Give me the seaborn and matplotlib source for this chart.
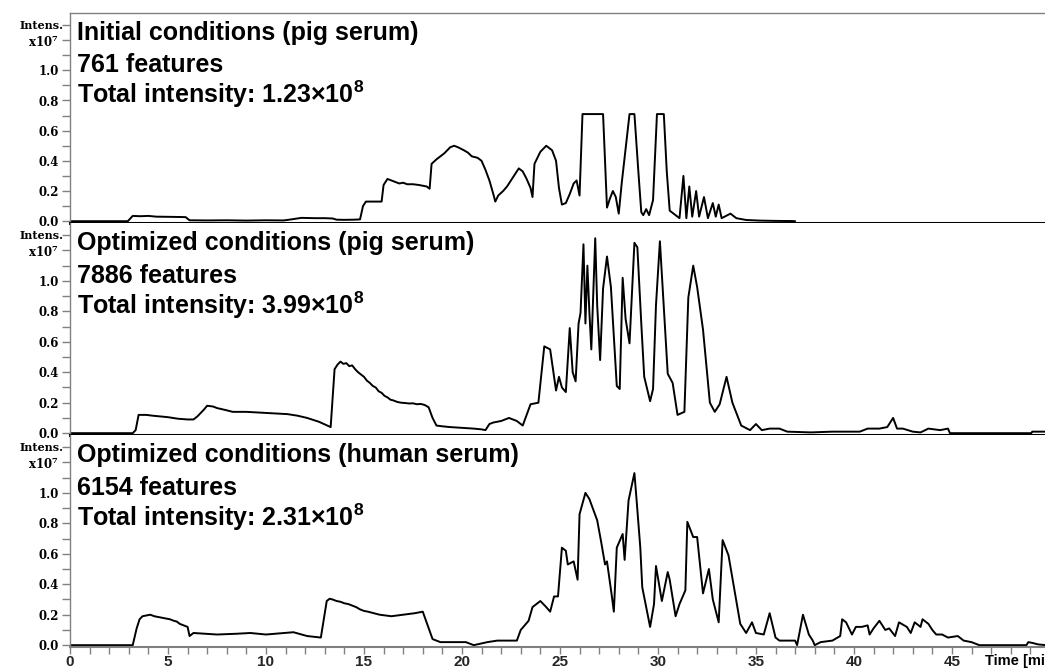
import matplotlib
matplotlib.use("Agg")
import matplotlib.pyplot as plt
import seaborn as sns
import pandas as pd
import numpy as np

# Retention time [min] and base-peak intensity [x10^7] for each chromatogram
t_initial_pig = [0.0, 2.95, 3.2, 3.6, 4.0, 4.4, 5.0, 5.5, 5.9, 6.1, 7.0, 8.0, 9.0, 10.0, 10.9,
                 11.3, 11.8, 12.5, 13.0, 13.4, 13.6, 14.0, 14.5, 14.8, 14.95, 15.1, 15.5, 15.9,
                 16.0, 16.2, 16.4, 16.6, 16.8, 17.0, 17.2, 17.5, 17.8, 18.0, 18.2, 18.35, 18.45,
                 18.7, 18.9, 19.1, 19.4, 19.6, 19.8, 20.1, 20.3, 20.5, 20.8, 21.0, 21.2, 21.4,
                 21.6, 21.7, 21.85, 22.1, 22.3, 22.6, 22.9, 23.1, 23.3, 23.5, 23.6, 23.7, 24.0,
                 24.3, 24.6, 24.8, 24.95, 25.1, 25.3, 25.5, 25.7, 25.85, 26.0, 26.15, 27.2, 27.4,
                 27.55, 27.7, 27.85, 28.0, 28.15, 28.35, 28.55, 28.8, 29.0, 29.15, 29.25, 29.4,
                 29.55, 29.75, 29.95, 30.3, 30.45, 30.6, 30.9, 31.1, 31.3, 31.45, 31.6, 31.75,
                 31.95, 32.1, 32.35, 32.55, 32.8, 32.95, 33.1, 33.25, 33.7, 34.0, 34.5, 35.2,
                 36.0, 36.8, 37.0]
i_initial_pig = [0.0, 0.0, 0.035, 0.033, 0.035, 0.03, 0.029, 0.028, 0.027, 0.006, 0.005, 0.006,
                 0.004, 0.006, 0.005, 0.012, 0.022, 0.02, 0.02, 0.018, 0.01, 0.009, 0.01, 0.012,
                 0.10, 0.13, 0.13, 0.13, 0.24, 0.28, 0.27, 0.26, 0.25, 0.255, 0.245, 0.245, 0.24,
                 0.235, 0.23, 0.215, 0.38, 0.41, 0.43, 0.45, 0.49, 0.50, 0.49, 0.47, 0.455, 0.43,
                 0.42, 0.40, 0.34, 0.27, 0.18, 0.13, 0.17, 0.20, 0.23, 0.29, 0.35, 0.33, 0.28,
                 0.22, 0.16, 0.38, 0.46, 0.50, 0.47, 0.40, 0.22, 0.11, 0.12, 0.18, 0.25, 0.27,
                 0.17, 0.71, 0.71, 0.09, 0.15, 0.20, 0.16, 0.05, 0.25, 0.48, 0.71, 0.71, 0.33,
                 0.06, 0.04, 0.08, 0.04, 0.14, 0.71, 0.71, 0.33, 0.07, 0.04, 0.02, 0.30, 0.02,
                 0.23, 0.03, 0.20, 0.03, 0.16, 0.02, 0.12, 0.03, 0.11, 0.02, 0.05, 0.02, 0.008,
                 0.004, 0.002, 0.001, 0.0]

t_optimized_pig = [0.0, 3.2, 3.35, 3.5, 3.9, 4.2, 4.6, 5.0, 5.5, 6.0, 6.3, 6.5, 6.8, 7.0, 7.3,
                   7.5, 8.0, 8.3, 9.0, 9.7, 10.4, 11.1, 11.6, 12.1, 12.7, 13.3,
                   13.5, 13.65, 13.8, 13.95, 14.1, 14.25, 14.4, 14.55, 14.7, 14.85, 15.0, 15.15,
                   15.3, 15.45, 15.6, 15.75, 15.9, 16.05, 16.2, 16.35, 16.5, 16.7, 16.9, 17.1,
                   17.3, 17.5, 17.7, 17.9, 18.1, 18.3,
                   18.5, 18.7, 19.0, 19.4, 20.0, 20.6, 21.0, 21.2, 21.4, 21.6, 22.0, 22.4, 22.8,
                   23.1, 23.5, 23.9, 24.2, 24.5, 24.8, 24.95, 25.1, 25.3, 25.5, 25.65, 25.8,
                   25.95, 26.05, 26.2, 26.3, 26.4, 26.5, 26.6, 26.8, 26.9, 27.05, 27.2, 27.4,
                   27.6, 27.9, 28.05, 28.2, 28.35, 28.55, 28.8, 28.95, 29.15, 29.3, 29.6, 29.75,
                   29.9, 30.1, 30.35, 30.5, 30.75, 31.0, 31.35, 31.55, 31.8, 32.0, 32.3, 32.65,
                   32.9, 33.15, 33.5, 33.8, 34.25, 34.7, 35.0, 35.3, 35.7, 36.2, 36.6, 37.8,
                   38.9, 40.3, 40.7, 41.3, 41.7, 42.0, 42.2, 42.5, 43.0, 43.4, 43.8, 44.4, 44.8,
                   44.9, 49.05, 49.1, 49.8]
i_optimized_pig = [0.0, 0.0, 0.02, 0.12, 0.12, 0.115, 0.11, 0.105, 0.095, 0.09, 0.09, 0.11,
                   0.15, 0.18, 0.175, 0.165, 0.15, 0.14, 0.14, 0.135, 0.13, 0.125, 0.115, 0.10,
                   0.075, 0.04,
                   0.42, 0.45, 0.47, 0.455, 0.46, 0.44, 0.445, 0.42, 0.40, 0.385, 0.37, 0.345,
                   0.33, 0.31, 0.30, 0.275, 0.265, 0.245, 0.235, 0.22, 0.215, 0.205, 0.20, 0.198,
                   0.195, 0.196, 0.19, 0.192, 0.185, 0.17,
                   0.10, 0.05, 0.045, 0.04, 0.035, 0.03, 0.025, 0.02, 0.06, 0.07, 0.08, 0.10,
                   0.08, 0.05, 0.19, 0.20, 0.57, 0.55, 0.28, 0.37, 0.30, 0.27, 0.69, 0.40, 0.34,
                   0.72, 0.79, 1.24, 0.72, 1.10, 0.80, 0.55, 1.28, 0.84, 0.48, 0.95, 1.16, 0.96,
                   0.31, 0.29, 1.02, 0.75, 0.59, 1.25, 1.22, 0.72, 0.37, 0.21, 0.29, 0.84, 1.26,
                   0.72, 0.39, 0.33, 0.12, 0.14, 0.89, 1.10, 0.96, 0.68, 0.20, 0.14, 0.19, 0.37,
                   0.20, 0.05, 0.02, 0.06, 0.02, 0.03, 0.03, 0.01, 0.005, 0.01, 0.01, 0.03, 0.03,
                   0.04, 0.10, 0.03, 0.03, 0.01, 0.005, 0.03, 0.02, 0.03, 0.0, 0.0, 0.01, 0.01]

t_optimized_human = [0.0, 3.2, 3.4, 3.55, 3.7, 3.9, 4.1, 4.3, 4.5, 4.7, 4.9, 5.1, 5.3, 5.45,
                     5.6, 5.8, 6.0, 6.1, 6.3, 7.5, 8.5, 9.2, 10.0, 10.9, 11.4, 12.1, 12.8,
                     13.1, 13.25, 13.4, 13.6, 13.8, 14.0, 14.2, 14.4, 14.6, 14.8, 15.0, 15.2,
                     15.5, 15.8, 16.1, 16.4, 16.7, 17.0, 17.3, 17.6, 17.8, 18.0,
                     18.5, 18.9, 20.2, 20.6, 21.3, 21.8, 22.8, 23.0, 23.4, 23.6, 24.0, 24.3,
                     24.5, 24.7, 24.9, 25.1, 25.3, 25.4, 25.7, 25.9, 26.0, 26.3, 26.5, 26.9, 27.1,
                     27.3, 27.4, 27.65, 27.75, 27.9, 28.2, 28.3, 28.5, 28.8, 28.9, 29.1, 29.2,
                     29.6, 29.8, 29.9, 30.2, 30.5, 30.6, 30.9, 31.1, 31.4, 31.5, 31.8, 32.0, 32.3,
                     32.6, 32.8, 33.1, 33.3, 33.6, 33.8, 34.2, 34.5, 34.8, 35.0, 35.4, 35.7, 36.0,
                     36.2, 37.0, 37.1, 37.4, 37.7, 37.9, 38.0, 38.3, 38.9, 39.3, 39.4, 39.6, 39.9,
                     40.1, 40.4, 40.7, 40.8, 41.0, 41.3, 41.6, 41.8, 42.1, 42.3, 42.7, 42.9, 43.1,
                     43.4, 43.5, 43.8, 44.0, 44.2, 44.5, 44.8, 45.3, 45.6, 46.0, 46.4, 48.8, 48.9,
                     49.1, 49.4, 49.8]
i_optimized_human = [0.0, 0.0, 0.11, 0.17, 0.19, 0.195, 0.20, 0.19, 0.185, 0.18, 0.175, 0.17,
                     0.16, 0.155, 0.14, 0.13, 0.12, 0.06, 0.08, 0.07, 0.075, 0.08, 0.07, 0.08,
                     0.085, 0.06, 0.05,
                     0.29, 0.305, 0.30, 0.29, 0.285, 0.275, 0.27, 0.26, 0.25, 0.235, 0.225, 0.22,
                     0.21, 0.20, 0.195, 0.19, 0.195, 0.20, 0.205, 0.21, 0.215, 0.22,
                     0.04, 0.02, 0.02, 0.0, 0.02, 0.03, 0.03, 0.10, 0.16, 0.25, 0.29, 0.25, 0.22,
                     0.32, 0.32, 0.64, 0.62, 0.53, 0.55, 0.43, 0.86, 1.00, 0.96, 0.82, 0.68, 0.53,
                     0.55, 0.32, 0.22, 0.64, 0.73, 0.56, 0.95, 1.13, 0.97, 0.64, 0.38, 0.12, 0.27,
                     0.52, 0.29, 0.48, 0.43, 0.19, 0.27, 0.36, 0.81, 0.71, 0.71, 0.34, 0.50, 0.30,
                     0.15, 0.69, 0.59, 0.44, 0.14, 0.08, 0.15, 0.08, 0.07, 0.21, 0.05, 0.03, 0.03,
                     0.0, 0.20, 0.07, 0.03, 0.0, 0.02, 0.03, 0.06, 0.17, 0.15, 0.07, 0.12, 0.12,
                     0.13, 0.07, 0.11, 0.16, 0.10, 0.11, 0.06, 0.15, 0.12, 0.08, 0.15, 0.12, 0.17,
                     0.14, 0.10, 0.07, 0.07, 0.05, 0.06, 0.03, 0.02, 0.0, 0.0, 0.02, 0.015, 0.005,
                     0.0]

panel_titles = ["Initial conditions (pig serum)",
                "Optimized conditions (pig serum)",
                "Optimized conditions (human serum)"]
feature_counts = ["761 features", "7886 features", "6154 features"]
total_intensities = ["1.23", "3.99", "2.31"]

y_ticks = [0.0, 0.2, 0.4, 0.6, 0.8, 1.0, 1.2]
y_tick_labels = ["0.0", "0.2", "0.4", "0.6", "0.8", "1.0", r"x10$^\mathsf{7}$"]
x_ticks = [0, 5, 10, 15, 20, 25, 30, 35, 40, 45]

sns.set_theme(style="white")
plt.rcParams["font.family"] = ["Liberation Sans", "DejaVu Sans"]
plt.rcParams["mathtext.fontset"] = "custom"
plt.rcParams["mathtext.bf"] = "Liberation Sans:bold"
plt.rcParams["mathtext.sf"] = "DejaVu Serif:bold"
plt.rcParams["mathtext.rm"] = "Liberation Sans"

GRAY = "#808080"
W, H = 1045, 671
fig = plt.figure(figsize=(W / 100, H / 100), dpi=100)
fig.patch.set_facecolor("white")

left = 70 / W
bounds = [(13, 223), (223, 435), (435, 647)]
series = [(t_initial_pig, i_initial_pig),
          (t_optimized_pig, i_optimized_pig),
          (t_optimized_human, i_optimized_human)]

for k, ((top_px, bot_px), (tt, ii)) in enumerate(zip(bounds, series)):
    ax = fig.add_axes([left, 1 - bot_px / H, 1 - left, (bot_px - top_px) / H])
    ax.set_facecolor("white")
    df = pd.DataFrame({"time": tt, "intensity": ii})
    sns.lineplot(data=df, x="time", y="intensity", ax=ax, color="black",
                 linewidth=1.4, estimator=None, sort=False)
    ax.set_xlim(0, 49.75)
    ax.set_ylim(-0.012, 1.38)
    ax.set_xlabel("")
    ax.set_ylabel("")

    ax.spines["right"].set_visible(False)
    ax.spines["left"].set_color(GRAY)
    ax.spines["left"].set_linewidth(1.0)
    ax.spines["top"].set_color(GRAY)
    ax.spines["top"].set_linewidth(1.0)
    ax.spines["top"].set_visible(k == 0)
    last = k == 2
    ax.spines["bottom"].set_color(GRAY if last else "black")
    ax.spines["bottom"].set_linewidth(1.5 if last else 2.2)

    ax.set_yticks(y_ticks)
    ax.set_yticklabels(y_tick_labels, fontfamily="DejaVu Serif", fontweight="bold",
                       fontsize=8.5, color="black")
    ax.set_yticks(np.arange(0.1, 1.35, 0.2), minor=True)
    ax.tick_params(axis="y", which="both", direction="out", length=6, width=1,
                   color=GRAY, left=True, pad=2)
    ax.text(-0.007, 1.30, "Intens.", transform=ax.get_yaxis_transform(),
            ha="right", va="center", fontfamily="DejaVu Serif", fontweight="bold",
            fontsize=8, color="black")

    if last:
        ax.set_xticks(x_ticks)
        ax.set_xticklabels([str(v) for v in x_ticks], fontweight="bold", fontsize=11)
        ax.set_xticks(np.arange(0, 50, 1), minor=True)
        ax.tick_params(axis="x", which="both", direction="out", length=5, width=1,
                       color=GRAY, bottom=True, pad=1)
    else:
        ax.set_xticks([])

    tx = 0.0072
    ax.text(tx, 0.871, panel_titles[k], transform=ax.transAxes, ha="left",
            va="baseline", fontsize=18, fontweight="bold", color="black")
    ax.text(tx, 0.719, feature_counts[k], transform=ax.transAxes, ha="left",
            va="baseline", fontsize=18, fontweight="bold", color="black")
    ax.text(tx, 0.571, "Total intensity: " + total_intensities[k] + r"×10$^\mathbf{8}$",
            transform=ax.transAxes, ha="left", va="baseline", fontsize=18,
            fontweight="bold", color="black")

fig.text(985 / W, 1 - 661 / H, "Time [min]", ha="left", va="center",
         fontweight="bold", fontsize=10.5, color="black")

fig.savefig("out.png", dpi=100, facecolor="white")
